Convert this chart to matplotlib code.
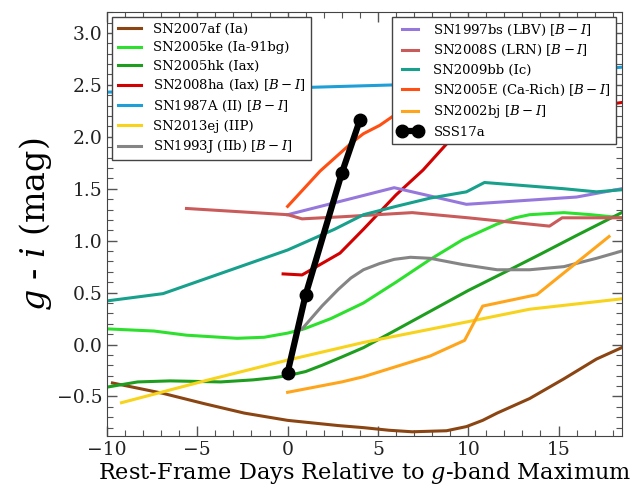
import matplotlib
matplotlib.use("Agg")
import matplotlib.pyplot as plt
from matplotlib.ticker import MultipleLocator

plt.rcParams["font.family"] = "DejaVu Serif"
plt.rcParams["mathtext.fontset"] = "dejavuserif"

# Colour curves (days relative to g-band maximum, g - i colour)
sn2007af_x = [-9.7, -6.9, -4.6, -2.4, 0, 2.8, 4.2, 5.6, 6.9, 8.8, 9.9, 10.8, 11.6, 13.4, 15.3, 17.1, 18.5]
sn2007af_y = [-0.37, -0.47, -0.57, -0.66, -0.73, -0.78, -0.80, -0.825, -0.84, -0.83, -0.79, -0.73, -0.66, -0.52, -0.33, -0.14, -0.03]

sn2005ke_x = [-9.9, -7.4, -5.6, -2.8, -1.3, 0, 0.9, 2.4, 4.2, 6.0, 7.9, 9.7, 11.6, 12.6, 13.4, 15.3, 16.8, 18.5]
sn2005ke_y = [0.15, 0.13, 0.09, 0.06, 0.07, 0.11, 0.15, 0.25, 0.40, 0.60, 0.82, 1.01, 1.16, 1.22, 1.25, 1.27, 1.25, 1.22]

sn2005hk_x = [-10, -8.3, -6.5, -3.7, -1.9, -0.8, 0, 1.0, 1.9, 3.0, 4.2, 6, 8, 10, 12.3, 14, 16, 18.5]
sn2005hk_y = [-0.41, -0.36, -0.35, -0.36, -0.34, -0.32, -0.30, -0.26, -0.20, -0.12, -0.03, 0.14, 0.33, 0.52, 0.72, 0.87, 1.05, 1.27]

sn2008ha_x = [-0.25, 0.8, 2.9, 4.2, 6.0, 7.5, 8.9, 9.5, 10.5, 13, 16, 18.5]
sn2008ha_y = [0.68, 0.67, 0.88, 1.11, 1.44, 1.68, 1.95, 2.02, 2.08, 2.18, 2.27, 2.33]

sn1987a_x = [-10, 0, 6, 12, 18.5]
sn1987a_y = [2.43, 2.47, 2.50, 2.58, 2.67]

sn2013ej_x = [-9.2, -4.6, 0, 4.2, 9.7, 13.4, 18.5]
sn2013ej_y = [-0.56, -0.35, -0.15, 0.02, 0.21, 0.34, 0.44]

sn1993j_x = [0.8, 1.9, 2.8, 3.5, 4.2, 5.1, 5.9, 6.8, 7.9, 9.7, 11.6, 13.4, 15.3, 17.1, 18.5]
sn1993j_y = [0.15, 0.37, 0.53, 0.64, 0.72, 0.78, 0.82, 0.84, 0.83, 0.77, 0.72, 0.72, 0.75, 0.83, 0.90]

sn1997bs_x = [0, 5.9, 9.9, 16.0, 18.5]
sn1997bs_y = [1.25, 1.51, 1.35, 1.42, 1.50]

sn2008s_x = [-5.6, 0, 0.8, 3, 6.9, 10, 14.5, 15.2, 18.5]
sn2008s_y = [1.31, 1.25, 1.21, 1.23, 1.27, 1.22, 1.14, 1.22, 1.22]

sn2009bb_x = [-10, -6.9, 0, 2.6, 4.2, 6.0, 7.9, 9.9, 10.9, 15.3, 17.1, 18.5]
sn2009bb_y = [0.42, 0.49, 0.91, 1.11, 1.25, 1.33, 1.41, 1.47, 1.56, 1.50, 1.47, 1.49]

sn2005e_x = [0, 1.8, 3.6, 4.2, 5.1, 6.1, 7.5]
sn2005e_y = [1.33, 1.67, 1.95, 2.03, 2.11, 2.23, 2.38]

sn2002bj_x = [0, 3.0, 4.2, 7.9, 9.8, 10.8, 13.8, 17.8]
sn2002bj_y = [-0.46, -0.36, -0.31, -0.11, 0.04, 0.37, 0.48, 1.04]

sss17a_x = [0, 1, 3, 4]
sss17a_y = [-0.27, 0.48, 1.65, 2.16]

labels_left = ["SN2007af (Ia)", "SN2005ke (Ia-91bg)", "SN2005hk (Iax)",
               r"SN2008ha (Iax) [$B-I$]", r"SN1987A (II) [$B-I$]",
               "SN2013ej (IIP)", r"SN1993J (IIb) [$B-I$]"]
labels_right = [r"SN1997bs (LBV) [$B-I$]", r"SN2008S (LRN) [$B-I$]",
                "SN2009bb (Ic)", r"SN2005E (Ca-Rich) [$B-I$]",
                r"SN2002bj [$B-I$]", "SSS17a"]

left_series = [(sn2007af_x, sn2007af_y, "#8B4513"),
               (sn2005ke_x, sn2005ke_y, "#2ee02e"),
               (sn2005hk_x, sn2005hk_y, "#1e9e1e"),
               (sn2008ha_x, sn2008ha_y, "#d20000"),
               (sn1987a_x, sn1987a_y, "#1f9fd8"),
               (sn2013ej_x, sn2013ej_y, "#f7d31c"),
               (sn1993j_x, sn1993j_y, "#858585")]
right_series = [(sn1997bs_x, sn1997bs_y, "#9678dc"),
                (sn2008s_x, sn2008s_y, "#c95b5b"),
                (sn2009bb_x, sn2009bb_y, "#17a08c"),
                (sn2005e_x, sn2005e_y, "#ff4f12"),
                (sn2002bj_x, sn2002bj_y, "#ffa51c")]

fig = plt.figure(figsize=(6.37, 4.86), dpi=100)
ax = fig.add_axes([0.168, 0.103, 0.808, 0.872])

lw = 2.2
left_handles = []
for (x, y, c), lab in zip(left_series, labels_left):
    h, = ax.plot(x, y, color=c, lw=lw, label=lab, solid_joinstyle="round")
    left_handles.append(h)
right_handles = []
for (x, y, c), lab in zip(right_series, labels_right[:-1]):
    h, = ax.plot(x, y, color=c, lw=lw, label=lab, solid_joinstyle="round")
    right_handles.append(h)
h, = ax.plot(sss17a_x, sss17a_y, color="black", lw=4.5, marker="o",
             markersize=9, label=labels_right[-1], zorder=5)
right_handles.append(h)

ax.set_xlim(-10, 18.5)
ax.set_ylim(-0.88, 3.2)
ax.xaxis.set_major_locator(MultipleLocator(5))
ax.xaxis.set_minor_locator(MultipleLocator(1))
ax.yaxis.set_major_locator(MultipleLocator(0.5))
ax.yaxis.set_minor_locator(MultipleLocator(0.1))
ax.tick_params(which="both", direction="in", top=True, right=True, colors="#555555",
               labelcolor="#222222", labelsize=13.5)
ax.tick_params(which="major", length=7, width=1)
ax.tick_params(which="minor", length=4, width=0.8)
for s in ax.spines.values():
    s.set_color("#444444")

ax.set_xlabel(r"Rest-Frame Days Relative to $g$-band Maximum", fontsize=16.2, labelpad=1)
ax.set_ylabel(r"$g$ - $i$ (mag)", fontsize=24, labelpad=2)

leg_kw = dict(fontsize=9.5, fancybox=False, framealpha=1, edgecolor="#444444",
              borderaxespad=0.4, handlelength=1.8, handletextpad=0.9,
              labelspacing=0.42)
leg1 = ax.legend(handles=left_handles, loc="upper left", **leg_kw)
leg1.get_frame().set_linewidth(1.0)
ax.add_artist(leg1)
leg2 = ax.legend(handles=right_handles, loc="upper right", numpoints=2, **leg_kw)
leg2.get_frame().set_linewidth(1.0)

fig.savefig("out.png", dpi=100)
